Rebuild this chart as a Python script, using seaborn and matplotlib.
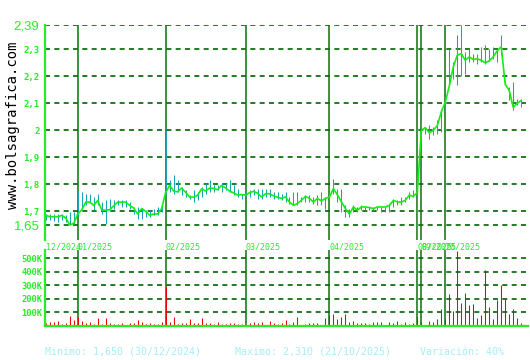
import numpy as np
import matplotlib
matplotlib.use("Agg")
import matplotlib.pyplot as plt
import seaborn as sns

# ---------------- data ----------------
close = [1.685, 1.680, 1.680, 1.680, 1.685, 1.675, 1.650, 1.655,
         1.690, 1.705, 1.734, 1.734, 1.722, 1.740, 1.705, 1.704,
         1.706, 1.720, 1.734, 1.734, 1.734, 1.722, 1.712, 1.690,
         1.710, 1.700, 1.685, 1.690, 1.690, 1.710, 1.770, 1.796,
         1.775, 1.772, 1.786, 1.770, 1.753, 1.752, 1.760, 1.783,
         1.775, 1.786, 1.785, 1.780, 1.796, 1.786, 1.775, 1.768,
         1.760, 1.762, 1.760, 1.769, 1.774, 1.767, 1.753, 1.765,
         1.765, 1.757, 1.752, 1.748, 1.753, 1.734, 1.722, 1.729,
         1.741, 1.755, 1.748, 1.734, 1.748, 1.738, 1.748, 1.753,
         1.784, 1.761, 1.735, 1.710, 1.690, 1.716, 1.704, 1.716,
         1.716, 1.714, 1.710, 1.716, 1.716, 1.716, 1.722, 1.740,
         1.735, 1.734, 1.741, 1.760, 1.755, 1.770, 2.000, 2.010,
         1.990, 2.000, 2.018, 2.068, 2.105, 2.164, 2.235, 2.278,
         2.284, 2.259, 2.272, 2.262, 2.265, 2.259, 2.250, 2.257,
         2.272, 2.294, 2.310, 2.170, 2.148, 2.085, 2.100, 2.110]

high = [1.691, 1.689, 1.689, 1.691, 1.691, 1.685, 1.697, 1.697,
        1.772, 1.772, 1.765, 1.765, 1.753, 1.765, 1.735, 1.741,
        1.747, 1.741, 1.741, 1.741, 1.741, 1.735, 1.716, 1.716,
        1.710, 1.704, 1.706, 1.710, 1.716, 1.722, 2.000, 1.815,
        1.833, 1.815, 1.790, 1.778, 1.759, 1.778, 1.772, 1.790,
        1.803, 1.815, 1.796, 1.796, 1.803, 1.803, 1.815, 1.796,
        1.784, 1.765, 1.772, 1.778, 1.784, 1.784, 1.784, 1.784,
        1.784, 1.772, 1.772, 1.765, 1.772, 1.753, 1.772, 1.772,
        1.753, 1.759, 1.759, 1.753, 1.759, 1.772, 1.753, 1.772,
        1.821, 1.784, 1.784, 1.722, 1.710, 1.722, 1.716, 1.722,
        1.716, 1.716, 1.716, 1.716, 1.716, 1.716, 1.722, 1.747,
        1.741, 1.753, 1.753, 1.772, 1.778, 1.800, 2.031, 2.012,
        2.019, 2.012, 2.037, 2.080, 2.123, 2.302, 2.253, 2.352,
        2.390, 2.290, 2.302, 2.284, 2.284, 2.309, 2.315, 2.302,
        2.309, 2.300, 2.352, 2.185, 2.160, 2.179, 2.117, 2.117]

low = [1.667, 1.669, 1.664, 1.660, 1.667, 1.660, 1.648, 1.654,
       1.688, 1.704, 1.722, 1.730, 1.704, 1.722, 1.691, 1.654,
       1.704, 1.710, 1.722, 1.716, 1.716, 1.710, 1.691, 1.673,
       1.673, 1.679, 1.679, 1.685, 1.685, 1.697, 1.765, 1.772,
       1.765, 1.772, 1.759, 1.753, 1.747, 1.735, 1.741, 1.753,
       1.765, 1.772, 1.772, 1.778, 1.772, 1.778, 1.770, 1.759,
       1.753, 1.747, 1.753, 1.753, 1.759, 1.747, 1.747, 1.753,
       1.753, 1.747, 1.747, 1.741, 1.735, 1.728, 1.722, 1.722,
       1.735, 1.735, 1.735, 1.728, 1.722, 1.722, 1.710, 1.747,
       1.765, 1.735, 1.698, 1.679, 1.679, 1.698, 1.698, 1.704,
       1.704, 1.704, 1.704, 1.704, 1.698, 1.698, 1.698, 1.716,
       1.722, 1.722, 1.735, 1.747, 1.753, 1.595, 1.963, 1.988,
       1.969, 1.981, 1.988, 1.994, 2.068, 2.164, 2.191, 2.167,
       2.200, 2.210, 2.253, 2.253, 2.247, 2.253, 2.247, 2.257,
       2.265, 2.253, 2.278, 2.167, 2.111, 2.074, 2.093, 2.086]

volume_k = [24, 32, 32, 36, 17, 24, 73, 44,
            70, 36, 24, 32, 15, 58, 15, 58,
            24, 15, 15, 24, 7, 24, 24, 44,
            32, 15, 24, 15, 15, 32, 285, 32,
            68, 15, 24, 24, 51, 24, 24, 61,
            24, 24, 15, 32, 15, 15, 24, 24,
            15, 15, 10, 24, 32, 24, 32, 7,
            36, 24, 15, 19, 44, 15, 32, 66,
            7, 15, 22, 22, 22, 7, 58, 78,
            88, 51, 66, 88, 29, 36, 22, 22,
            22, 15, 29, 29, 29, 7, 29, 22,
            36, 15, 29, 15, 22, 66, 29, 7,
            36, 29, 51, 124, 49, 233, 110, 555,
            170, 243, 153, 161, 61, 80, 409, 141,
            51, 190, 304, 202, 88, 124, 58, 24]

month_labels = ["12/2024", "01/2025", "02/2025", "03/2025", "04/2025",
                "08/2025", "09/2025", "10/2025"]
month_pos = [0, 8, 30, 50, 71, 93, 94, 100]

price_ticks = [2.39, 2.3, 2.2, 2.1, 2.0, 1.9, 1.8, 1.7, 1.65]
price_tick_labels = ["2,39", "2,3", "2,2", "2,1", "2", "1,9", "1,8", "1,7", "1,65"]
vol_ticks = [100, 200, 300, 400, 500]
vol_tick_labels = ["100K", "200K", "300K", "400K", "500K"]

footer_texts = ["Minimo: 1,650 (30/12/2024)", "Maximo: 2,310 (21/10/2025)",
                "Variación: 40%"]
watermark = "www.bolsagrafica.com"

# ---------------- styling ----------------
GRID = "#006400"
MONTH = "#0a700a"
BRIGHT = "#22ee22"
LINE = "#11ee11"
HL = "#1aa3b5"
VOL = "#ee0000"
FOOT = "#a8eef4"
DASH = (0, (3.0, 2.6))

W, H = 530, 360
fig = plt.figure(figsize=(W / 100, H / 100), dpi=100)
fig.patch.set_facecolor("white")


def rect(l, t, r, b):
    return [l / W, 1 - b / H, (r - l) / W, (b - t) / H]


axp = fig.add_axes(rect(45, 25, 528, 240))
axv = fig.add_axes(rect(45, 250, 528, 326))

x = np.arange(len(close))
xlim = (-0.2, 120.7)

# --- price panel ---
for t in price_ticks:
    axp.axhline(t, color=GRID, lw=1.2, ls=DASH, zorder=0)
for m in month_pos[1:]:
    axp.axvline(m, color=MONTH, lw=1.1, zorder=1)
axp.vlines(x, low, high, color=HL, lw=0.75, zorder=2, snap=True)
sns.lineplot(x=x, y=close, ax=axp, color=LINE, lw=1.2, zorder=3)

axp.set_xlim(*xlim)
axp.set_ylim(2.39 - 215 / 270, 2.39)
for s in ["top", "right", "bottom"]:
    axp.spines[s].set_visible(False)
axp.spines["left"].set_color(BRIGHT)
axp.spines["left"].set_linewidth(1.6)

axp.set_yticks(price_ticks, price_tick_labels)
axp.tick_params(axis="y", length=0, pad=4, labelcolor=BRIGHT)
for lbl in axp.get_yticklabels():
    if lbl.get_text() in ("2,39", "1,65"):
        lbl.set_fontfamily("Liberation Sans")
        lbl.set_fontsize(9.5)
    else:
        lbl.set_fontfamily("DejaVu Sans Mono")
        lbl.set_fontweight("bold")
        lbl.set_fontsize(6.5)

axp.set_xticks(month_pos, month_labels)
axp.tick_params(axis="x", length=0, pad=1.5, labelcolor=BRIGHT)
for lbl in axp.get_xticklabels():
    lbl.set_ha("left")
    lbl.set_fontfamily("DejaVu Sans Mono")
    lbl.set_fontsize(6)
axp.set_xlabel("")
axp.set_ylabel("")
axp.set_facecolor("white")

# --- volume panel ---
for t in vol_ticks:
    axv.axhline(t, color=GRID, lw=1.2, ls=DASH, zorder=0)
for m in month_pos[1:]:
    axv.axvline(m, color=MONTH, lw=1.1, zorder=1)
axv.vlines(x, 0, volume_k, color=VOL, lw=0.75, zorder=2, snap=True)
axv.set_xlim(*xlim)
axv.set_ylim(0, 560)
for s in ["top", "right"]:
    axv.spines[s].set_visible(False)
for s in ["left", "bottom"]:
    axv.spines[s].set_color(BRIGHT)
    axv.spines[s].set_linewidth(1.6)
axv.set_xticks([])
axv.set_yticks(vol_ticks, vol_tick_labels)
axv.tick_params(axis="y", length=0, pad=2, labelcolor=BRIGHT)
for lbl in axv.get_yticklabels():
    lbl.set_fontfamily("DejaVu Sans Mono")
    lbl.set_fontweight("bold")
    lbl.set_fontsize(6.3)
axv.set_facecolor("white")

# --- watermark & footer ---
fig.text(13 / W, 1 - 125 / H, watermark, rotation=90, ha="center", va="center",
         family="DejaVu Sans Mono", fontsize=10, color="black")
for txt, xp in zip(footer_texts, [45, 235, 420]):
    fig.text(xp / W, 1 - 352 / H, txt, ha="left", va="center",
             family="DejaVu Sans Mono", fontsize=7.2, color=FOOT)

fig.savefig("out.png", dpi=100, facecolor="white")
